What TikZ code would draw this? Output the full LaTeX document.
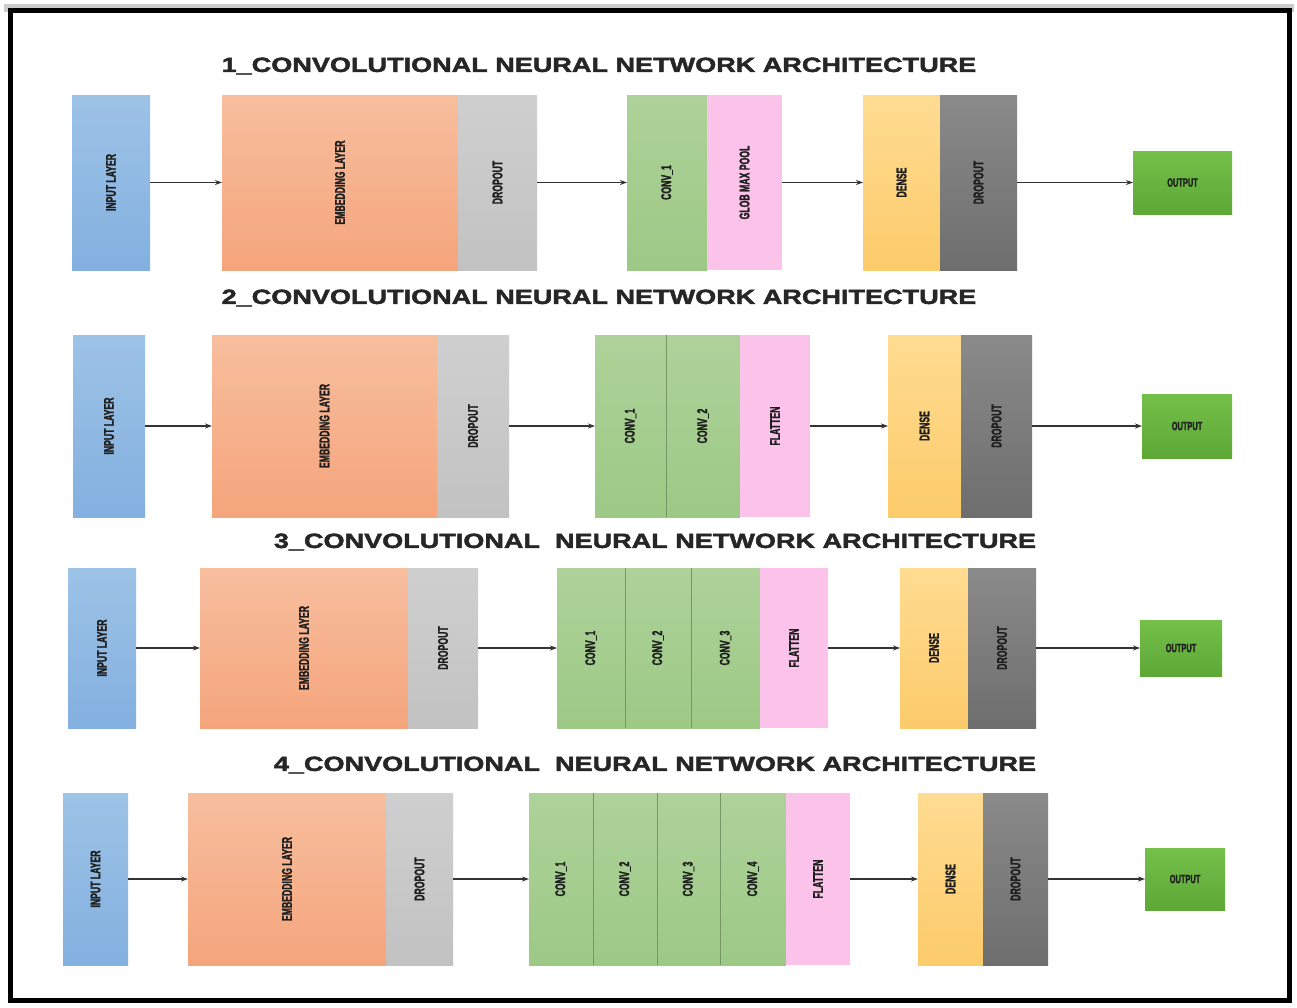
\documentclass[tikz,border=0pt]{standalone}
\usepackage{fontspec}
\setmainfont{Liberation Sans}
\newfontfamily\narrowf[FakeStretch=0.62,FakeBold=1.6]{Liberation Sans}
\newfontfamily\ttlf[FakeStretch=1.32,FakeBold=2.2]{Liberation Sans}
\usetikzlibrary{arrows.meta}
\definecolor{cblue}{HTML}{9DC3E6}
\definecolor{cblueb}{HTML}{83B0E0}
\definecolor{corg}{HTML}{F7BE9E}
\definecolor{corgb}{HTML}{F5A57C}
\definecolor{clgray}{HTML}{CFCFCF}
\definecolor{clgrayb}{HTML}{C2C2C2}
\definecolor{cgreen}{HTML}{AED29A}
\definecolor{cgreenb}{HTML}{9CC985}
\definecolor{cpink}{HTML}{FBC3EA}
\definecolor{cyel}{HTML}{FFDC92}
\definecolor{cyelb}{HTML}{FCCB6A}
\definecolor{cdgray}{HTML}{8A8A8A}
\definecolor{cdgrayb}{HTML}{6E6E6E}
\definecolor{cout}{HTML}{74C04A}
\definecolor{coutb}{HTML}{5EA836}
\definecolor{ctxt}{HTML}{1E1E1E}
\tikzset{
  blk/.style={inner sep=0pt, outer sep=0pt, draw=none, text=ctxt,
    font=\narrowf\bfseries\fontsize{14}{14}\selectfont},
  inl/.style={blk, top color=cblue, bottom color=cblueb},
  emb/.style={blk, top color=corg, bottom color=corgb},
  drp/.style={blk, top color=clgray, bottom color=clgrayb},
  cnv/.style={blk, top color=cgreen, bottom color=cgreenb},
  flt/.style={blk, fill=cpink},
  dns/.style={blk, top color=cyel, bottom color=cyelb},
  drk/.style={blk, top color=cdgray, bottom color=cdgrayb},
  outl/.style={blk, top color=cout, bottom color=coutb, font=\narrowf\bfseries\fontsize{12}{12}\selectfont},
  sep/.style={draw=cgreenb!75!black, line width=1pt},
  arr/.style={draw=black!80, line width=1.4pt, -{Stealth[length=7pt,width=5pt]}},
  ttl/.style={font=\ttlf\bfseries\fontsize{20.5}{21}\selectfont, text=black!85, inner sep=0pt}
}
\newcommand\blk[7]{\node[#2, minimum width={(#5-#3)*1pt}, minimum height={(#6-#4)*1pt}] (#1) at ({(#3+#5)/2},{(#4+#6)/2}) {\rotatebox{90}{#7}};}
\newcommand\outbox[6]{\node[#2, minimum width={(#5-#3)*1pt}, minimum height={(#6-#4)*1pt}] (#1) at ({(#3+#5)/2},{(#4+#6)/2}) {OUTPUT};}
\begin{document}
\begin{tikzpicture}[x=1pt,y=-1pt]
\useasboundingbox (0,0) rectangle (1297,1007);
\fill[white] (0,0) rectangle (1297,1007);
\fill[black!20] (4,4) rectangle (1294,12);
\draw[line width=5pt, black] (10,10) rectangle (1289,1000);

% ---------- Row 1 ----------
\node[ttl] (t1) at (599,66) {1\_CONVOLUTIONAL NEURAL NETWORK ARCHITECTURE};
\blk{in1}{inl}{72}{95}{150}{270}{INPUT LAYER}
\blk{em1}{emb}{222}{95}{458}{270}{EMBEDDING LAYER}
\blk{dr1}{drp}{458}{95}{537}{270}{DROPOUT}
\blk{c11}{cnv}{627}{95}{707}{270}{CONV\_1}
\blk{gp1}{flt}{707}{95}{782}{270}{GLOB MAX POOL}
\blk{de1}{dns}{863}{95}{940}{270}{DENSE}
\blk{dd1}{drk}{940}{95}{1017}{270}{DROPOUT}
\outbox{o1}{outl}{1133}{151}{1232}{214}
\draw[arr] (in1.east) -- (em1.west);
\draw[arr] (dr1.east) -- (c11.west);
\draw[arr] (gp1.east) -- (de1.west);
\draw[arr] (dd1.east) -- (o1.west);

% ---------- Row 2 ----------
\node[ttl] (t2) at (599,298) {2\_CONVOLUTIONAL NEURAL NETWORK ARCHITECTURE};
\blk{in2}{inl}{73}{335}{145}{517}{INPUT LAYER}
\blk{em2}{emb}{212}{335}{437}{517}{EMBEDDING LAYER}
\blk{dr2}{drp}{437}{335}{509}{517}{DROPOUT}
\blk{c21}{cnv}{595}{335}{666}{517}{CONV\_1}
\blk{c22}{cnv}{666}{335}{740}{517}{CONV\_2}
\blk{fl2}{flt}{740}{335}{810}{517}{FLATTEN}
\blk{de2}{dns}{888}{335}{961}{517}{DENSE}
\blk{dd2}{drk}{961}{335}{1032}{517}{DROPOUT}
\outbox{o2}{outl}{1142}{394}{1232}{458}
\draw[sep] (c21.north east) -- (c21.south east);
\draw[arr] (in2.east) -- (em2.west);
\draw[arr] (dr2.east) -- (c21.west);
\draw[arr] (fl2.east) -- (de2.west);
\draw[arr] (dd2.east) -- (o2.west);

% ---------- Row 3 ----------
\node[ttl] (t3) at (655,542) {3\_CONVOLUTIONAL\ \ NEURAL NETWORK ARCHITECTURE};
\blk{in3}{inl}{68}{568}{136}{728}{INPUT LAYER}
\blk{em3}{emb}{200}{568}{408}{728}{EMBEDDING LAYER}
\blk{dr3}{drp}{408}{568}{478}{728}{DROPOUT}
\blk{c31}{cnv}{557}{568}{625}{728}{CONV\_1}
\blk{c32}{cnv}{625}{568}{691}{728}{CONV\_2}
\blk{c33}{cnv}{691}{568}{760}{728}{CONV\_3}
\blk{fl3}{flt}{760}{568}{828}{728}{FLATTEN}
\blk{de3}{dns}{900}{568}{968}{728}{DENSE}
\blk{dd3}{drk}{968}{568}{1036}{728}{DROPOUT}
\outbox{o3}{outl}{1140}{620}{1222}{676}
\draw[sep] (c31.north east) -- (c31.south east);
\draw[sep] (c32.north east) -- (c32.south east);
\draw[arr] (in3.east) -- (em3.west);
\draw[arr] (dr3.east) -- (c31.west);
\draw[arr] (fl3.east) -- (de3.west);
\draw[arr] (dd3.east) -- (o3.west);

% ---------- Row 4 ----------
\node[ttl] (t4) at (655,765) {4\_CONVOLUTIONAL\ \ NEURAL NETWORK ARCHITECTURE};
\blk{in4}{inl}{63}{793}{128}{965}{INPUT LAYER}
\blk{em4}{emb}{188}{793}{386}{965}{EMBEDDING LAYER}
\blk{dr4}{drp}{386}{793}{453}{965}{DROPOUT}
\blk{c41}{cnv}{529}{793}{593}{965}{CONV\_1}
\blk{c42}{cnv}{593}{793}{657}{965}{CONV\_2}
\blk{c43}{cnv}{657}{793}{720}{965}{CONV\_3}
\blk{c44}{cnv}{720}{793}{786}{965}{CONV\_4}
\blk{fl4}{flt}{786}{793}{850}{965}{FLATTEN}
\blk{de4}{dns}{918}{793}{983}{965}{DENSE}
\blk{dd4}{drk}{983}{793}{1048}{965}{DROPOUT}
\outbox{o4}{outl}{1145}{848}{1225}{910}
\draw[sep] (c41.north east) -- (c41.south east);
\draw[sep] (c42.north east) -- (c42.south east);
\draw[sep] (c43.north east) -- (c43.south east);
\draw[arr] (in4.east) -- (em4.west);
\draw[arr] (dr4.east) -- (c41.west);
\draw[arr] (fl4.east) -- (de4.west);
\draw[arr] (dd4.east) -- (o4.west);
\end{tikzpicture}
\end{document}
